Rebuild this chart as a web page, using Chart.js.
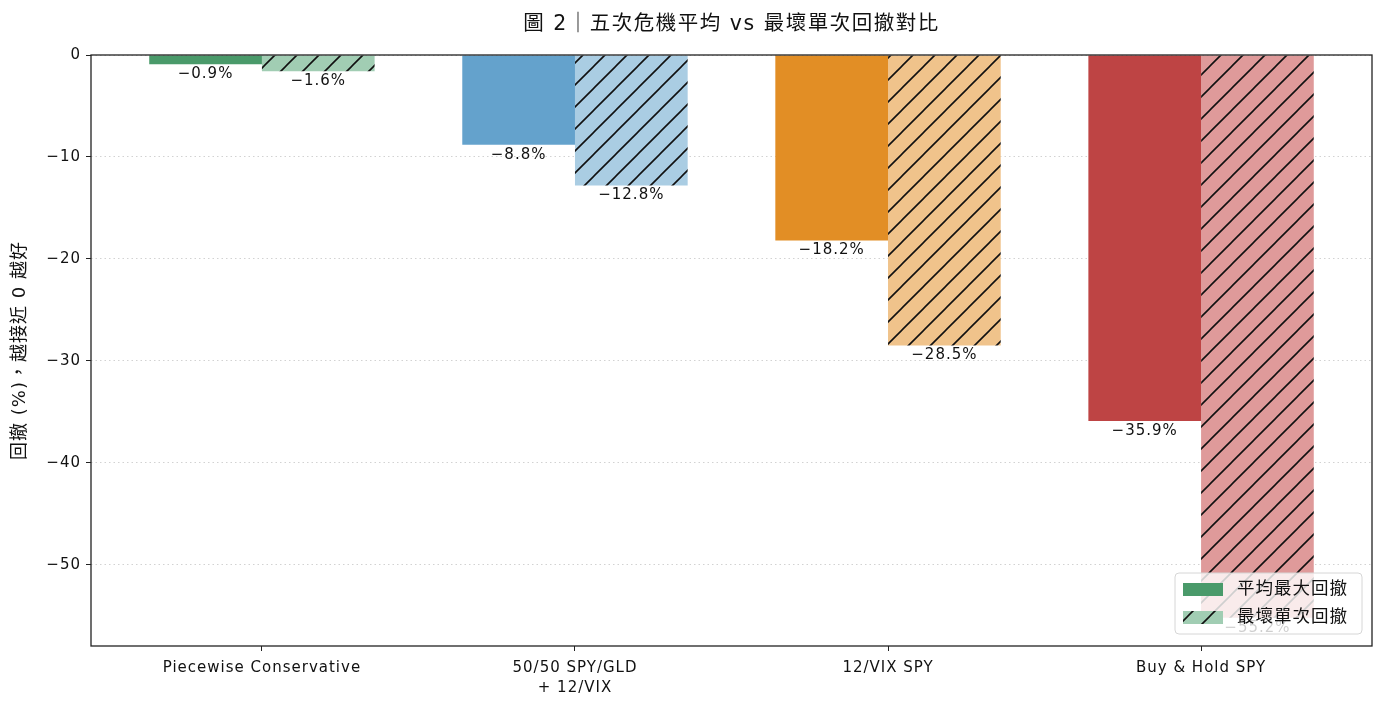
<!DOCTYPE html>
<html>
<head>
<meta charset="utf-8">
<script src="https://cdn.jsdelivr.net/npm/chart.js@4/dist/chart.umd.min.js"></script>
<style>
  html, body { margin: 0; padding: 0; background: #fff; }
  #wrap { width: 1385px; height: 712px; }
</style>
</head>
<body>
<div id="wrap"><canvas id="myChart" width="1385" height="712"></canvas></div>
<script>
const FONT = "'DejaVu Sans', 'Noto Sans CJK TC', sans-serif";

const chartTitle = "圖 2｜五次危機平均 vs 最壞單次回撤對比";
const categories = ["Piecewise Conservative", ["50/50 SPY/GLD", "+ 12/VIX"], "12/VIX SPY", "Buy & Hold SPY"];
const avgDrawdown = [-0.9, -8.8, -18.2, -35.9];
const worstDrawdown = [-1.6, -12.8, -28.5, -55.2];
const yTicks = [0, -10, -20, -30, -40, -50];
const seriesNames = ["平均最大回撤", "最壞單次回撤"];

const solidColors = ["#4a9a6a", "#64a2cc", "#e28e25", "#be4444"];
const paleColors = ["#a1cdb3", "#aacde3", "#f0c38b", "#df9a9a"];

function hatch(bg) {
  const s = 22;
  const c = document.createElement("canvas");
  c.width = s;
  c.height = s;
  const g = c.getContext("2d");
  g.fillStyle = bg;
  g.fillRect(0, 0, s, s);
  g.strokeStyle = "#111";
  g.lineWidth = 1.6;
  g.beginPath();
  g.moveTo(-s, s);
  g.lineTo(s, -s);
  g.moveTo(0, s);
  g.lineTo(s, 0);
  g.moveTo(0, 2 * s);
  g.lineTo(2 * s, 0);
  g.stroke();
  return g.createPattern(c, "repeat");
}

const minus = (v) => String(v).replace("-", "\u2212");

const spacing = {
  id: "spacing",
  afterInit(chart) {
    chart.ctx.letterSpacing = "1px";
  },
};

const valueLabels = {
  id: "valueLabels",
  afterDatasetsDraw(chart) {
    const ctx = chart.ctx;
    ctx.save();
    ctx.font = "15px " + FONT;
    ctx.fillStyle = "#111";
    ctx.textAlign = "center";
    ctx.textBaseline = "middle";
    chart.data.datasets.forEach((ds, di) => {
      chart.getDatasetMeta(di).data.forEach((bar, i) => {
        ctx.fillText(minus(ds.data[i].y.toFixed(1)) + "%", bar.x, bar.y + 10);
      });
    });
    ctx.restore();
  },
};

const frameAndLegend = {
  id: "frameAndLegend",
  afterDraw(chart) {
    const ctx = chart.ctx;
    const a = chart.chartArea;
    ctx.save();
    ctx.strokeStyle = "#222";
    ctx.lineWidth = 1.3;
    ctx.strokeRect(a.left, a.top, a.right - a.left, a.bottom - a.top);

    // title centred over the plot area
    ctx.font = "20.5px " + FONT;
    ctx.fillStyle = "#111";
    ctx.textAlign = "center";
    ctx.textBaseline = "middle";
    ctx.letterSpacing = "1.5px";
    ctx.fillText(chartTitle, (a.left + a.right) / 2, 25);
    ctx.letterSpacing = "1px";

    // legend box, lower right inside the plot
    const w = 187, h = 61;
    const x = a.right - 10 - w, y = a.bottom - 12 - h;
    ctx.beginPath();
    ctx.roundRect(x, y, w, h, 4);
    ctx.fillStyle = "rgba(255,255,255,0.8)";
    ctx.fill();
    ctx.strokeStyle = "#d6d6d6";
    ctx.lineWidth = 1;
    ctx.stroke();
    const fills = [solidColors[0], hatch(paleColors[0])];
    ctx.font = "17.5px " + FONT;
    ctx.textBaseline = "middle";
    ctx.textAlign = "left";
    seriesNames.forEach((name, i) => {
      const ry = y + 16 + i * 28;
      ctx.fillStyle = fills[i];
      ctx.fillRect(x + 8, ry - 6, 40, 13);
      ctx.fillStyle = "#111";
      ctx.fillText(name, x + 62, ry);
    });
    ctx.restore();
  },
};

const ctx = document.getElementById("myChart").getContext("2d");

const myChart = new Chart(ctx, {
  type: "bar",
  data: {
    datasets: [
      {
        label: seriesNames[0],
        data: avgDrawdown.map((v, i) => ({ x: i, y: v })),
        backgroundColor: solidColors,
        borderWidth: 0,
      },
      {
        label: seriesNames[1],
        data: worstDrawdown.map((v, i) => ({ x: i, y: v })),
        backgroundColor: paleColors.map(hatch),
        borderWidth: 0,
      },
    ],
  },
  options: {
    responsive: false,
    animation: false,
    devicePixelRatio: 1,
    categoryPercentage: 0.72,
    barPercentage: 1,
    layout: { padding: { top: 55, right: 13, bottom: 0, left: 0 } },
    plugins: {
      legend: { display: false },
      tooltip: { enabled: false },
      title: { display: false },
    },
    scales: {
      x: {
        type: "linear",
        offset: false,
        min: -0.546,
        max: 3.546,
        afterBuildTicks: (axis) => {
          axis.ticks = categories.map((c, i) => ({ value: i }));
        },
        afterFit: (axis) => {
          axis.height = 66;
        },
        border: { display: false },
        grid: {
          offset: false,
          drawOnChartArea: false,
          tickLength: 5,
          tickColor: "#222",
          lineWidth: 1,
        },
        ticks: {
          color: "#111",
          font: { family: FONT, size: 15, lineHeight: 1.33 },
          padding: 7,
          maxRotation: 0,
          autoSkip: false,
          callback: (v) => categories[v],
        },
      },
      y: {
        min: -57.96,
        max: 0,
        afterBuildTicks: (axis) => {
          axis.ticks = yTicks.map((v) => ({ value: v }));
        },
        afterFit: (axis) => {
          axis.width = 91;
        },
        border: { display: false, dash: [1.5, 3] },
        grid: {
          color: "#d2d2d2",
          lineWidth: 1,
          tickLength: 5,
          tickColor: "#222",
          tickBorderDash: [],
          tickWidth: 1,
        },
        ticks: {
          color: "#111",
          font: { family: FONT, size: 15 },
          padding: 5,
          callback: (v) => minus(v),
        },
        title: {
          display: true,
          text: "回撤 (%)，越接近 0 越好",
          color: "#111",
          font: { family: FONT, size: 18 },
          padding: { top: 10, bottom: 4 },
        },
      },
    },
  },
  plugins: [spacing, valueLabels, frameAndLegend],
});
</script>
</body>
</html>
